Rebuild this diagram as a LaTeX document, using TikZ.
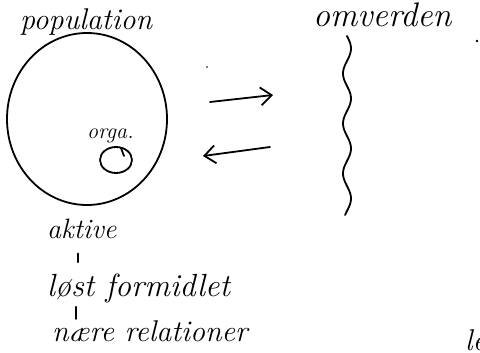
\documentclass[tikz,border=0pt]{standalone}
\usetikzlibrary{arrows.meta}
\tikzset{
  pen/.style={line width=1.8pt, line cap=round, line join=round},
  hand/.style={font=\itshape\fontsize{#1}{#1}\selectfont, anchor=base west, inner sep=0pt},
  pil/.style={pen, -{Straight Barb[length=11pt,width=18pt,line width=1.8pt]}}
}
\begin{document}
\begin{tikzpicture}[x=1pt,y=-1pt]
    \useasboundingbox (0,0) rectangle (480,353);
    \clip (0,0) rectangle (480,353);
    % Population with organisation
    \node[hand=30] (pop) at (20,30) {population};
    \draw[pen] (87,119) ellipse [x radius=80, y radius=86];
    \node[hand=22] (org) at (87,139) {orga.};
    \draw[pen] (116,160) ellipse [x radius=16, y radius=13];
    \draw[pen] (121,148) -- (124,156);
    % Omverden
    \node[hand=34] (omv) at (313,27) {omverden};
    \fill (477,41) circle (1.4pt);
    \draw[pen] plot[domain=36:215, samples=90, smooth] ({347+4*sin(7.2*(\x-36))}, \x);
    % Arrows between them
    \coordinate (ud0) at (210,102);
    \coordinate (ud1) at (273,95);
    \coordinate (ind0) at (270,147);
    \coordinate (ind1) at (203,156);
    \draw[pil] (ud0) -- (ud1);
    \draw[pil] (ind0) -- (ind1);
    \fill (207,67) circle (0.8pt);
    % Chain below
    \node[hand=28] (aktive) at (47,238) {aktive};
    \node[hand=32] (formidlet) at (47,296) {løst formidlet};
    \node[hand=30] (naere) at (52,341) {nære relationer};
    \draw[pen, shorten <=15pt, shorten >=11pt] ([xshift=-4pt]aktive.south) -- ([xshift=-4pt]aktive.south |- formidlet.north);
    \draw[pen, shorten <=4pt, shorten >=1pt] ([xshift=-6pt]aktive.south |- formidlet.south) -- ([xshift=-6pt]aktive.south |- naere.north);
    % Cut-off text at the corner
    \node[hand=30] (le) at (465,350) {le};
\end{tikzpicture}
\end{document}
